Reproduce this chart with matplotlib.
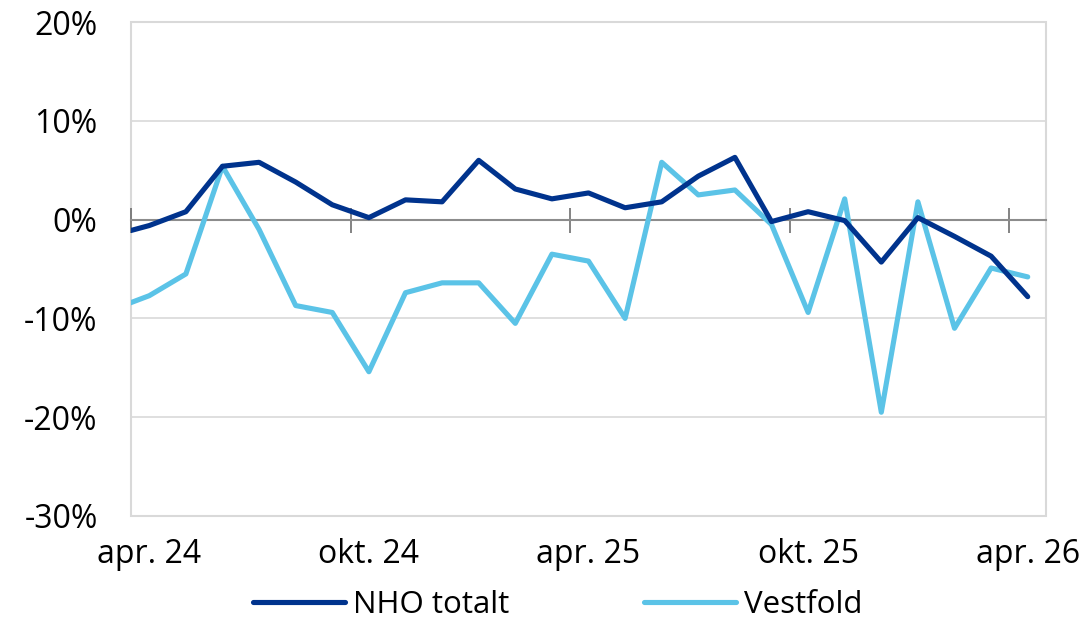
import numpy as np
import matplotlib.pyplot as plt
from matplotlib.patches import Rectangle

plt.rcParams['font.family'] = ['Open Sans', 'DejaVu Sans']
plt.rcParams['axes.unicode_minus'] = False

# monthly values, mar. 24 .. apr. 26 (mar. 24 lies left of the axis and is clipped)
months = ["mar. 24", "apr. 24", "mai 24", "jun. 24", "jul. 24", "aug. 24", "sep. 24",
          "okt. 24", "nov. 24", "des. 24", "jan. 25", "feb. 25", "mar. 25",
          "apr. 25", "mai 25", "jun. 25", "jul. 25", "aug. 25", "sep. 25",
          "okt. 25", "nov. 25", "des. 25", "jan. 26", "feb. 26", "mar. 26", "apr. 26"]
nho_totalt = [-1.6, -0.6, 0.8, 5.4, 5.8, 3.8, 1.5, 0.2, 2.0, 1.8, 6.0, 3.1, 2.1,
              2.7, 1.2, 1.8, 4.4, 6.3, -0.2, 0.8, -0.1, -4.3, 0.2, -1.7, -3.7, -7.8]
vestfold = [-9.1, -7.7, -5.5, 5.4, -1.0, -8.7, -9.4, -15.4, -7.4, -6.4, -6.4, -10.5, -3.5,
            -4.2, -10.0, 5.8, 2.5, 3.0, -0.5, -9.4, 2.1, -19.5, 1.8, -11.0, -4.9, -5.8]
tick_labels = ["apr. 24", "okt. 24", "apr. 25", "okt. 25", "apr. 26"]

dark = '#00338d'
light = '#5bc3e7'

fig = plt.figure(figsize=(10.87, 6.24), dpi=100)
ax = fig.add_axes([0.1205, 0.1731, 0.8418, 0.7916])

# each month sits in the middle of its slot; apr. 24 slot starts at x=0
x = np.arange(len(months)) - 0.5
ax.plot(x, nho_totalt, color=dark, lw=3.7, solid_joinstyle='round',
        solid_capstyle='round', label='NHO totalt', zorder=4)
ax.plot(x, vestfold, color=light, lw=3.7, solid_joinstyle='round',
        solid_capstyle='round', label='Vestfold', zorder=3)

ax.set_xlim(0, 25)
ax.set_ylim(-30, 20)

# y axis
ax.set_yticks([-30, -20, -10, 0, 10, 20])
ax.set_yticklabels([f"{v}%" for v in [-30, -20, -10, 0, 10, 20]])
ax.tick_params(axis='y', length=0, pad=24, labelsize=23, labelcolor='black')
for v in [-30, -20, -10, 10, 20]:
    ax.axhline(v, color='#d9d9d9', lw=1.2, zorder=1)

# category axis at zero with crossing ticks every six months
for s in ['top', 'right', 'left']:
    ax.spines[s].set_visible(False)
ax.spines['bottom'].set_position(('data', 0))
ax.spines['bottom'].set_color('#8c8c8c')
ax.spines['bottom'].set_linewidth(1.5)
ax.spines['bottom'].set_zorder(2)
ax.set_xticks([0, 6, 12, 18, 24])
ax.tick_params(axis='x', direction='inout', length=18, width=1.2, color='#6e6e6e',
               labelbottom=False)

sec = ax.secondary_xaxis(0)
sec.set_xticks([0.5, 6.5, 12.5, 18.5, 24.5])
sec.set_xticklabels(tick_labels)
sec.tick_params(length=0, pad=16, labelsize=23)
sec.spines['bottom'].set_visible(False)

ax.add_patch(Rectangle((0, 0), 1, 1, transform=ax.transAxes, fill=False,
                       ec='#d9d9d9', lw=1.5, zorder=1, clip_on=False))

fig.legend(loc='center', bbox_to_anchor=(0.513, 0.03), ncol=2, frameon=False,
           fontsize=22.5, handlelength=2.95, handletextpad=0.25, columnspacing=4.3,
           borderpad=0.2)

fig.savefig('out.png', dpi=100)
